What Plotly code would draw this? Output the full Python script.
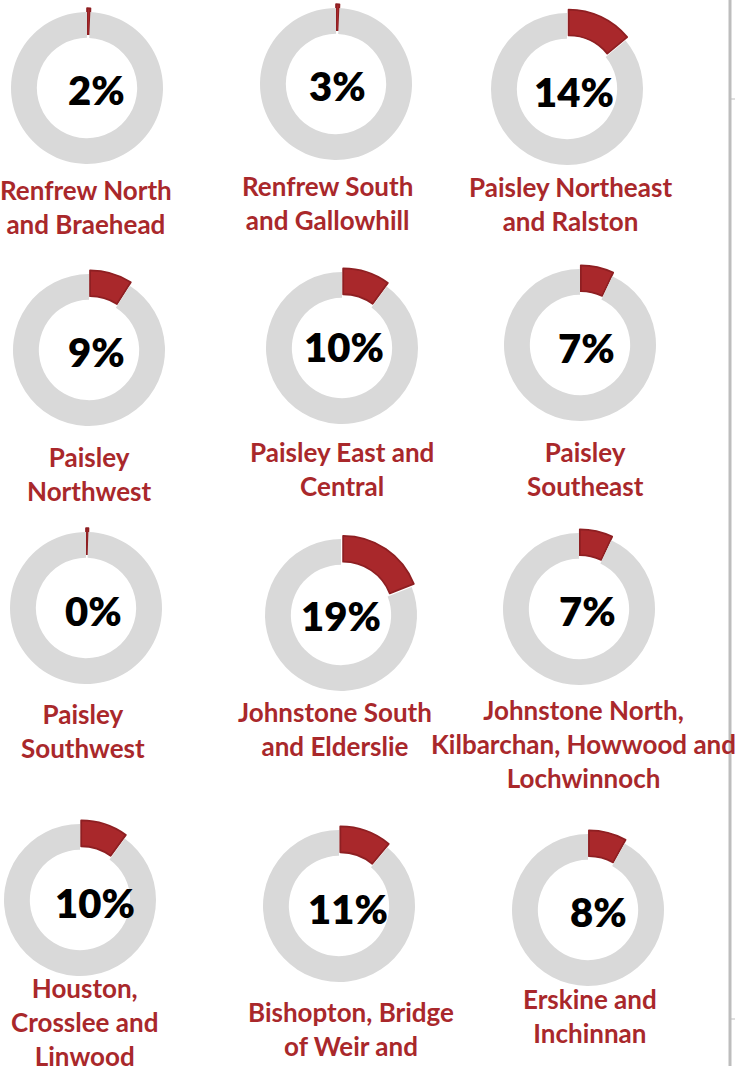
import plotly.graph_objects as go

# ── Data ─────────────────────────────────────────────────────────────────────
areas = [
    "Renfrew North<br>and Braehead",
    "Renfrew South<br>and Gallowhill",
    "Paisley Northeast<br>and Ralston",
    "Paisley<br>Northwest",
    "Paisley East and<br>Central",
    "Paisley<br>Southeast",
    "Paisley<br>Southwest",
    "Johnstone South<br>and Elderslie",
    "Johnstone North,<br>Kilbarchan, Howwood and<br>Lochwinnoch",
    "Houston,<br>Crosslee and<br>Linwood",
    "Bishopton, Bridge<br>of Weir and",
    "Erskine and<br>Inchinnan",
]
pct_labels = [2, 3, 14, 9, 10, 7, 0, 19, 7, 10, 11, 8]
# arc sizes as drawn (tiny shares appear as a thin sliver)
arc_share = [0.7, 0.7, 14, 9, 10, 7, 0.5, 19, 7, 10, 11, 8]

# ── Layout helpers ───────────────────────────────────────────────────────────
W, H = 735, 1066
RED = "#A9282B"
GREY = "#D9D9D9"
PULL = 0.05
R = 76

# donut centres, centre-text positions and label positions (pixels)
centers = [(87, 88), (336, 84), (567, 89),
           (89, 350), (342, 348), (580, 345),
           (86, 608), (341, 615), (579, 609),
           (80, 900), (339, 906), (588, 910)]
text_pos = [(96, 90), (337, 86), (574, 92),
            (96, 352), (344, 347), (586, 348),
            (93, 611), (341, 616), (587, 611),
            (95, 903), (348, 909), (598, 912)]
label_pos = [(86, 190), (327, 186), (570, 187),
             (89, 457), (342, 452), (585, 452),
             (83, 714), (335, 712), (583, 710),
             (84, 988), (351, 1012), (590, 999)]

fig = go.Figure()
annotations = []

for i, (name, pct, arc) in enumerate(zip(areas, pct_labels, arc_share)):
    cx, cy = centers[i]
    half = R * (1 + PULL)
    fig.add_trace(go.Pie(
        values=[arc, 100 - arc],
        labels=["share", "rest"],
        hole=0.66,
        sort=False,
        direction="clockwise",
        rotation=0,
        pull=[PULL, 0],
        marker=dict(colors=[RED, GREY],
                    line=dict(color=["#8E1F22", GREY], width=[1.8, 0])),
        textinfo="none",
        hoverinfo="skip",
        showlegend=False,
        domain=dict(x=[(cx - half) / W, (cx + half) / W],
                    y=[1 - (cy + half) / H, 1 - (cy - half) / H]),
    ))
    tx, ty = text_pos[i]
    annotations.append(dict(
        x=tx / W, y=1 - ty / H, xref="paper", yref="paper",
        text=f"{pct}%", showarrow=False,
        font=dict(family="Lato", size=40, color="black", weight=800),
        xanchor="center", yanchor="middle",
    ))
    lx, ly = label_pos[i]
    annotations.append(dict(
        x=lx / W, y=1 - (ly - 18) / H, xref="paper", yref="paper",
        text=name, showarrow=False,
        font=dict(family="Lato", size=26, color=RED, weight=700),
        xanchor="center", yanchor="top", align="center",
    ))

# right-hand border of the page cell
shapes = [
    dict(type="line", xref="paper", yref="paper", x0=730 / W, x1=730 / W, y0=0, y1=1,
         line=dict(color="#BDBDBD", width=3)),
    dict(type="line", xref="paper", yref="paper", x0=731 / W, x1=1, y0=1 - 99 / H, y1=1 - 99 / H,
         line=dict(color="#BDBDBD", width=1)),
    dict(type="line", xref="paper", yref="paper", x0=731 / W, x1=1, y0=1 - 1019 / H, y1=1 - 1019 / H,
         line=dict(color="#BDBDBD", width=1)),
]

fig.update_layout(
    width=W, height=H,
    margin=dict(l=0, r=0, t=0, b=0),
    paper_bgcolor="white", plot_bgcolor="white",
    annotations=annotations,
    shapes=shapes,
)
fig.write_html("out.html", config={"displayModeBar": False},
               post_script="document.body.style.margin = '0';")
